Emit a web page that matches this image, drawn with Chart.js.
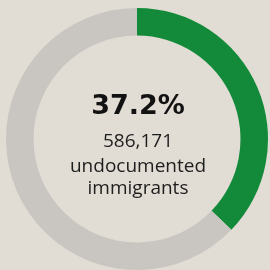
<!DOCTYPE html>
<html>
<head>
<meta charset="utf-8">
<script src="https://cdn.jsdelivr.net/npm/chart.js@4"></script>
<style>
  html, body { margin: 0; padding: 0; background: #e1dcd4; }
  #wrap { position: absolute; left: 0; top: 0; width: 270px; height: 270px; }
</style>
</head>
<body>
<div id="wrap"><canvas id="chart" width="270" height="270"></canvas></div>
<script>
// share of undocumented immigrants
const categories = ['Share', 'Rest'];
const shareValues = [37.2, 62.8];
const headline = '37.2%';
const countLabel = '586,171';
const captionLines = ['undocumented', 'immigrants'];

// center text plugin
const centerText = {
  id: 'centerText',
  afterDraw(chart) {
    const ctx = chart.ctx;
    const meta = chart.getDatasetMeta(0).data[0];
    const cx = meta.x + 1;
    const cy = meta.y;
    ctx.save();
    ctx.textAlign = 'center';
    ctx.textBaseline = 'alphabetic';
    ctx.fillStyle = '#121212';
    ctx.font = 'bold 27px "DejaVu Sans"';
    ctx.fillText(headline, cx, cy - 25);
    ctx.fillStyle = '#1e1e1e';
    ctx.font = '500 19px "Open Sans"';
    ctx.fillText(countLabel, cx, cy + 8);
    ctx.fillText(captionLines[0], cx, cy + 33);
    ctx.fillText(captionLines[1], cx, cy + 55);
    ctx.restore();
  }
};

new Chart(document.getElementById('chart'), {
  type: 'doughnut',
  data: {
    labels: categories,
    datasets: [{
      data: shareValues,
      backgroundColor: ['#138a39', '#c9c5c1'],
      borderWidth: 0
    }]
  },
  options: {
    responsive: false,
    animation: false,
    cutout: '79%',
    rotation: 0,
    layout: { padding: { left: 5, right: 1, top: 8, bottom: -2 } },
    plugins: {
      legend: { display: false },
      tooltip: { enabled: false }
    }
  },
  plugins: [centerText]
});
</script>
</body>
</html>
